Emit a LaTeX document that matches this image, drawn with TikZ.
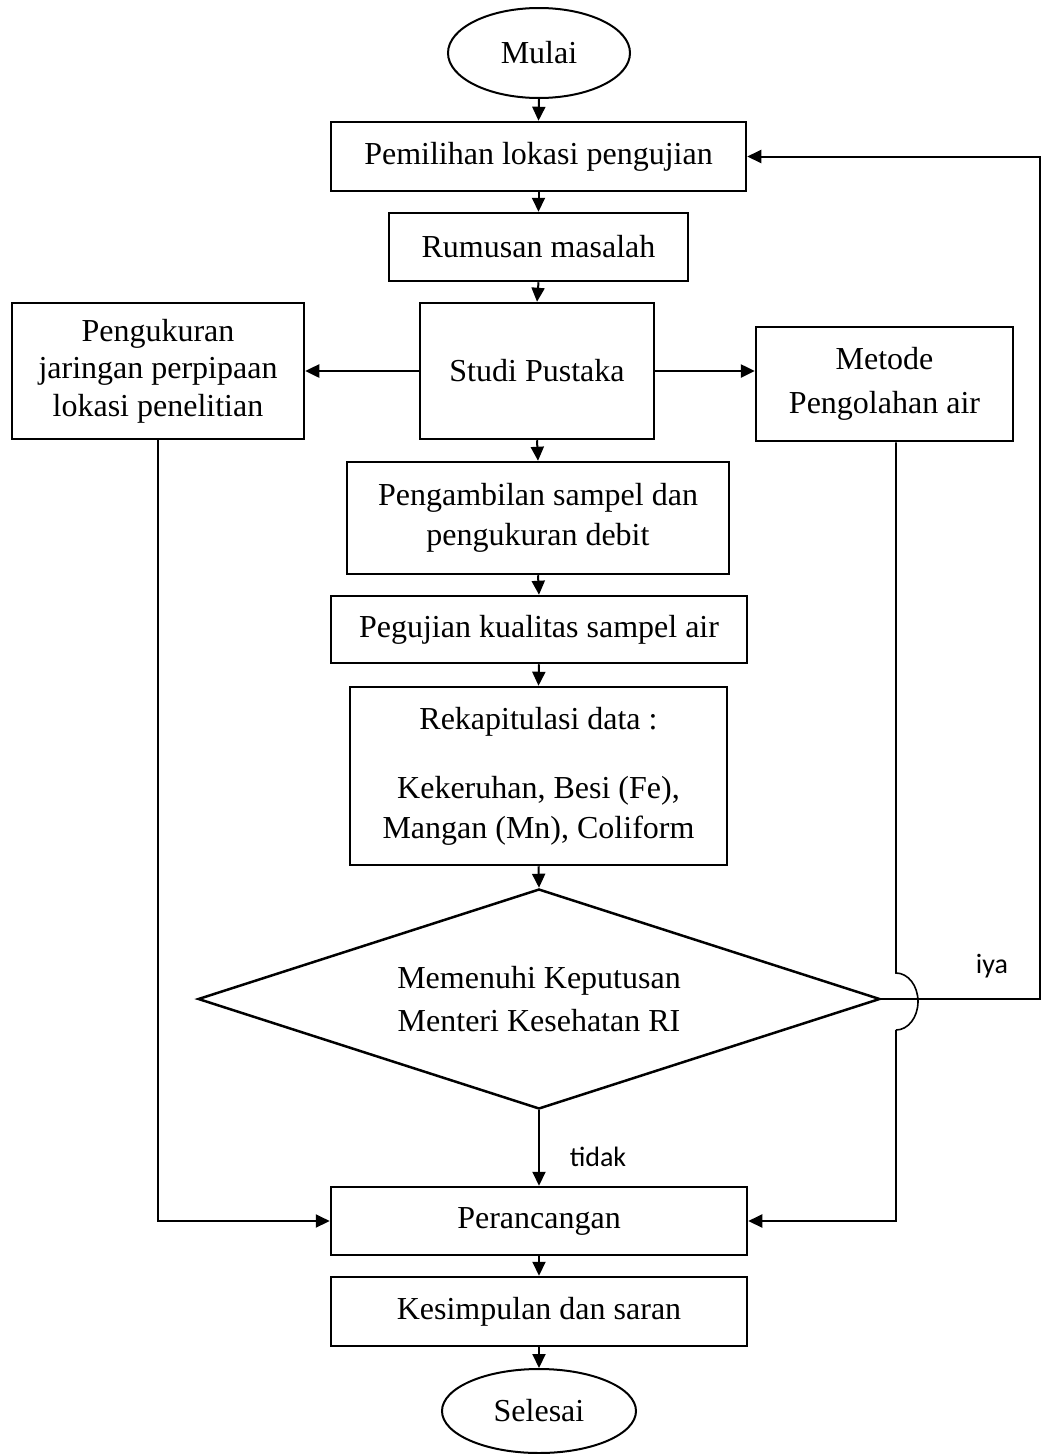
\documentclass[tikz,border=0pt]{standalone}
\usepackage{fontspec}
\setmainfont{Liberation Serif}
\newfontfamily\lblfont{Carlito}
\usetikzlibrary{shapes.geometric,arrows.meta,calc}
\begin{document}
\begin{tikzpicture}[x=1pt,y=-1pt,
  txt/.style={font=\fontsize{32}{40}\selectfont},
  box/.style={draw, line width=2.5pt, rectangle, inner sep=0pt, align=center, txt},
  term/.style={draw, line width=2pt, ellipse, inner sep=0pt, txt},
  arr/.style={line width=2pt, -{Triangle[length=14pt,width=13pt]}},
  sideline/.style={line width=1.6pt},
  lbl/.style={font=\lblfont\fontsize{28}{32}\selectfont}]
\useasboundingbox (0,0) rectangle (1042,1454);

\node[term, minimum width=182pt, minimum height=90pt] (start) at (539,53) {Mulai};
\node[box, minimum width=415pt, minimum height=69pt] (pem) at (538.5,156.5) {Pemilihan lokasi pengujian};
\node[box, minimum width=299pt, minimum height=68pt] (rum) at (538.5,247) {Rumusan masalah};
\node[box, minimum width=234pt, minimum height=136pt] (studi) at (537,371) {Studi Pustaka};
\node[box, minimum width=292pt, minimum height=136pt] (left) at (158,371) {Pengukuran\\[-2.5pt]jaringan perpipaan\\[-2.5pt]lokasi penelitian};
\node[box, minimum width=257pt, minimum height=114pt] (right) at (884.5,384) {Metode\\[4pt]Pengolahan air};
\node[box, minimum width=382pt, minimum height=112pt] (ambil) at (538,518) {Pengambilan sampel dan\\pengukuran debit};
\node[box, minimum width=416pt, minimum height=67pt] (uji) at (539,629.5) {Pegujian kualitas sampel air};
\node[box, minimum width=377pt, minimum height=178pt] (rekap) at (538.5,776) {Rekapitulasi data :\\[29pt]Kekeruhan, Besi (Fe),\\Mangan (Mn), Coliform};
\node[draw, diamond, line width=2.5pt, aspect=3.1, minimum width=682pt, minimum height=220pt, inner sep=0pt, align=center, txt] (dia) at (539,999) {Memenuhi Keputusan\\[3pt]Menteri Kesehatan RI};
\node[box, minimum width=416pt, minimum height=68pt] (peran) at (539,1221) {Perancangan};
\node[box, minimum width=416pt, minimum height=69pt] (kes) at (539,1311.5) {Kesimpulan dan saran};
\node[term, minimum width=194pt, minimum height=84pt] (end) at (539,1411) {Selesai};

\node[lbl] (tdk) at (598,1157) {tidak};
\node[lbl] (iya) at (992,966) {iya};

\coordinate (jt) at (896,973);
\coordinate (jb) at (896,1030);
\coordinate (fx) at (1040,0);

\draw[arr] (start.south) -- (pem.north);
\draw[arr] (pem.south) -- (rum.north);
\draw[arr] (rum.south) -- (studi.north);
\draw[arr, line width=2.5pt] (studi.west) -- (left.east);
\draw[arr, line width=2.5pt] (studi.east) -- (studi.east -| right.west);
\draw[arr] (studi.south) -- (ambil.north);
\draw[arr] (ambil.south) -- (uji.north);
\draw[arr] (uji.south) -- (rekap.north);
\draw[arr] (rekap.south) -- (dia.north);
\draw[arr] (dia.south) -- (peran.north);
\draw[arr] (peran.south) -- (kes.north);
\draw[arr] (kes.south) -- (end.north);

\draw[arr] (left.south) |- (peran.west);
\draw[sideline] (right.south -| jt) -- (jt) arc[start angle=90, end angle=-90, x radius=22pt, y radius=28.5pt];
\draw[arr] (jb) |- (peran.east);
\draw[arr] (dia.east) -- (dia.east -| fx) |- (pem.east);
\end{tikzpicture}
\end{document}
